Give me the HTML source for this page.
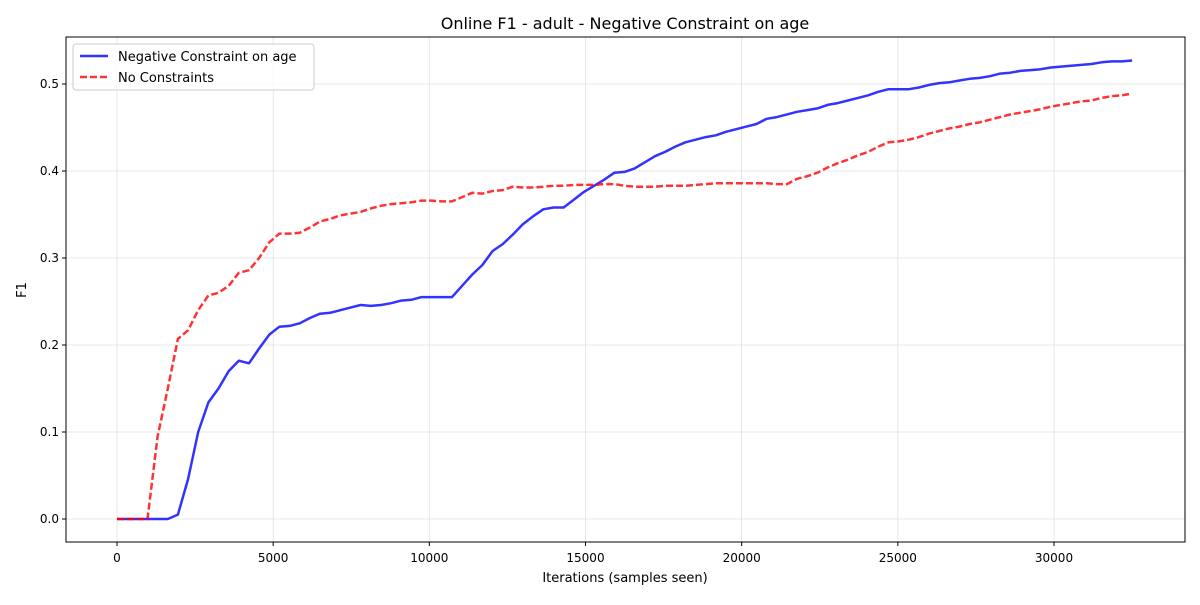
<!DOCTYPE html>
<html><head><meta charset="utf-8"><style>
body{margin:0;background:#fff;font-family:"Liberation Sans","DejaVu Sans",sans-serif}
</style></head><body>
<svg id="chart" width="1200" height="600" xmlns="http://www.w3.org/2000/svg" font-family="'DejaVu Sans','Liberation Sans',sans-serif">
<rect width="1200" height="600" fill="#fff"/>
<text x="625" y="29" text-anchor="middle" font-size="16">Online F1 - adult - Negative Constraint on age</text>
<g id="grid"></g><g id="ticks"></g><g id="series"></g>
<rect x="66" y="37" width="1119" height="505" fill="none" stroke="#000" stroke-width="1"/>
<text x="625" y="582" text-anchor="middle" font-size="13">Iterations (samples seen)</text>
<text x="26" y="290" text-anchor="middle" font-size="13" transform="rotate(-90 26 290)">F1</text>
<g>
<rect x="73" y="44" width="241" height="46" rx="3" fill="#fff" fill-opacity="0.8" stroke="#ccc"/>
<g><line x1="80" y1="56" x2="108" y2="56" stroke="#0000ff" stroke-opacity="0.8" stroke-width="2.5"/><text x="118" y="61" font-size="13">Negative Constraint on age</text></g>
<g><line x1="80" y1="77" x2="108" y2="77" stroke="#ff0000" stroke-opacity="0.8" stroke-width="2.5" stroke-dasharray="7,3"/><text x="118" y="82" font-size="13">No Constraints</text></g>
</g>
</svg>
<script>
const xTicks=[0,5000,10000,15000,20000,25000,30000];
const yTicks=[0,0.1,0.2,0.3,0.4,0.5];
const yTickLabels=["0.0","0.1","0.2","0.3","0.4","0.5"];
const negative=[0,0,0,0,0,0,0.005,0.046,0.1,0.134,0.15,0.17,0.182,0.179,0.196,0.212,0.221,0.222,0.225,0.231,0.236,0.237,0.240,0.243,0.246,0.245,0.246,0.248,0.251,0.252,0.255,0.255,0.255,0.255,0.268,0.281,0.292,0.308,0.316,0.327,0.339,0.348,0.356,0.358,0.358,0.367,0.376,0.383,0.39,0.398,0.399,0.403,0.41,0.417,0.422,0.428,0.433,0.436,0.439,0.441,0.445,0.448,0.451,0.454,0.46,0.462,0.465,0.468,0.47,0.472,0.476,0.478,0.481,0.484,0.487,0.491,0.494,0.494,0.494,0.496,0.499,0.501,0.502,0.504,0.506,0.507,0.509,0.512,0.513,0.515,0.516,0.517,0.519,0.520,0.521,0.522,0.523,0.525,0.526,0.526,0.527];
const noConstraint=[0,0,0,0,0.095,0.15,0.207,0.217,0.24,0.257,0.26,0.268,0.283,0.286,0.3,0.318,0.328,0.328,0.329,0.335,0.342,0.345,0.349,0.351,0.353,0.357,0.36,0.362,0.363,0.364,0.366,0.366,0.365,0.365,0.37,0.375,0.374,0.377,0.378,0.382,0.381,0.381,0.382,0.383,0.383,0.384,0.384,0.384,0.385,0.385,0.383,0.382,0.382,0.382,0.383,0.383,0.383,0.384,0.385,0.386,0.386,0.386,0.386,0.386,0.386,0.385,0.385,0.391,0.394,0.398,0.404,0.409,0.413,0.418,0.422,0.428,0.433,0.434,0.436,0.439,0.443,0.446,0.449,0.451,0.454,0.456,0.459,0.462,0.465,0.467,0.469,0.471,0.474,0.476,0.478,0.48,0.481,0.484,0.486,0.487,0.489];
const step=325;
const X=v=>117+v*(937/30000);
const Y=v=>519-v*870;
const NS="http://www.w3.org/2000/svg";
function mk(tag,attrs,parent){const e=document.createElementNS(NS,tag);for(const k in attrs)e.setAttribute(k,attrs[k]);parent.appendChild(e);return e;}
const grid=document.getElementById('grid'),ticks=document.getElementById('ticks'),series=document.getElementById('series');
xTicks.forEach(t=>{const x=X(t);
 const g=mk('line',{x1:x,x2:x,y1:37,y2:542,stroke:'#b0b0b0','stroke-opacity':0.35,'stroke-width':0.8},grid);
 
 
 mk('line',{x1:x,x2:x,y1:542,y2:546,stroke:'#000'},ticks);
 const l=mk('text',{x:x,y:562,'text-anchor':'middle','font-size':12},ticks);l.textContent=t;
 
 
});
yTicks.forEach((t,i)=>{const y=Y(t);
 const g=mk('line',{x1:66,x2:1185,y1:y,y2:y,stroke:'#b0b0b0','stroke-opacity':0.35,'stroke-width':0.8},grid);
 
 
 mk('line',{x1:62,x2:66,y1:y,y2:y,stroke:'#000'},ticks);
 const l=mk('text',{x:59,y:y+4,'text-anchor':'end','font-size':12},ticks);l.textContent=yTickLabels[i];
 
 
});
function path(arr){return arr.map((v,i)=>(i?'L':'M')+X(i*step).toFixed(1)+','+Y(v).toFixed(1)).join('');}
const p1=mk('path',{d:path(negative),fill:'none',stroke:'#0000ff','stroke-opacity':0.8,'stroke-width':2.5,'stroke-linejoin':'round'},series);


const p2=mk('path',{d:path(noConstraint),fill:'none',stroke:'#ff0000','stroke-opacity':0.8,'stroke-width':2.5,'stroke-dasharray':'7,3'},series);


</script>
</body></html>
